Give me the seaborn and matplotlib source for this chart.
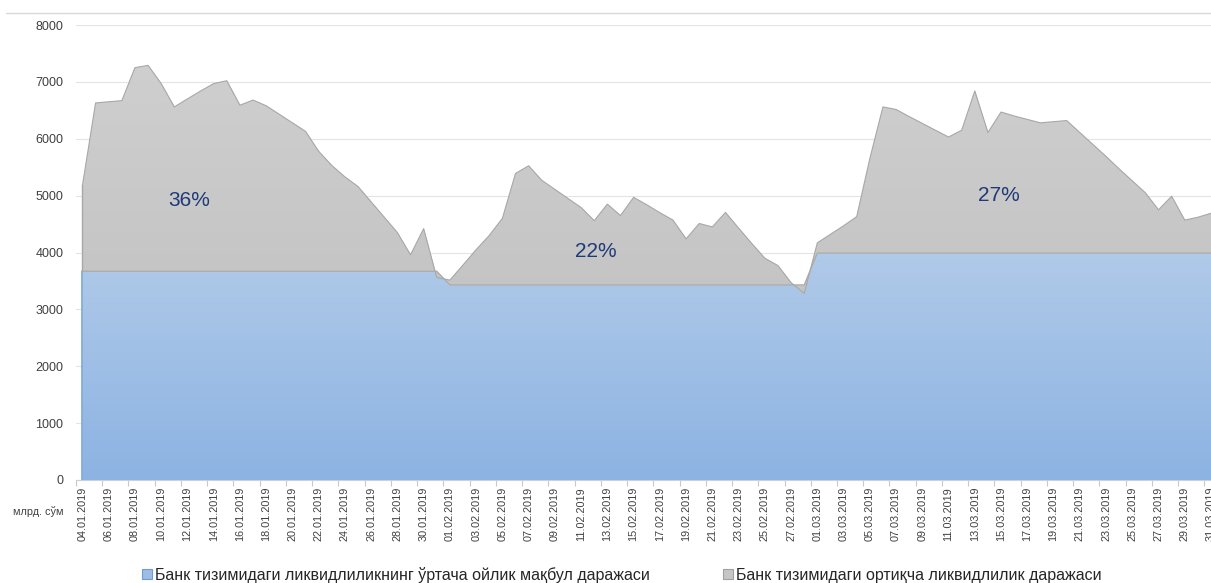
import numpy as np
import pandas as pd
import matplotlib
matplotlib.use("Agg")
import matplotlib.pyplot as plt
from matplotlib.colors import LinearSegmentedColormap
from matplotlib.patches import Patch
from matplotlib.lines import Line2D
import seaborn as sns

# daily dates 04.01.2019 - 31.03.2019
dates = pd.date_range("2019-01-04", "2019-03-31", freq="D")

# ўртача ойлик мақбул даража (monthly level), млрд. сўм
required_jan = 3670
required_feb = 3430
required_mar = 3990

# ортиқча ликвидлилик (excess over the monthly level), млрд. сўм
excess_jan = [1510, 2960, 2980, 3000, 3580, 3620, 3300, 2890, 3030, 3170,
              3300, 3350, 2920, 3010, 2910, 2760, 2610, 2460, 2110, 1860,
              1660, 1490, 1220, 950, 680, 290, 750, -110]
excess_feb = [85, 350, 620, 870, 1170, 1960, 2095, 1840, 1680, 1520,
              1360, 1130, 1420, 1220, 1540, 1410, 1270, 1140, 810, 1080,
              1020, 1275, 1000, 730, 470, 340, 40, -150]
excess_mar = [180, 330, 480, 640, 1660, 2570, 2525, 2400, 2280, 2160,
              2040, 2160, 2850, 2120, 2480, 2410, 2350, 2290, 2310, 2330,
              2120, 1910, 1700, 1480, 1270, 1060, 760, 1000, 580, 630, 700]

month_share = ["36%", "22%", "27%"]
share_pos = [(8.1, 4920), (39.1, 4010), (69.8, 5010)]

legend_labels = ["Банк тизимидаги ликвидлиликнинг ўртача ойлик мақбул даражаси",
                 "Банк тизимидаги ортиқча ликвидлилик даражаси"]

required = np.array([required_jan] * len(excess_jan) + [required_feb] * len(excess_feb)
                    + [required_mar] * len(excess_mar), dtype=float)
excess = np.array(excess_jan + excess_feb + excess_mar, dtype=float)
total = required + excess
days = np.arange(len(dates))

sns.set_theme(style="whitegrid")
plt.rcParams["font.family"] = ["Liberation Sans", "DejaVu Sans"]

W, H = 1211, 583
fig = plt.figure(figsize=(W / 100, H / 100), dpi=100)
ax = fig.add_axes([75.9 / W, 103 / H, (W - 75.9) / W, 455 / H])

# blue area with gradient
blue_poly = ax.fill_between(days, 0, required, color="#a3c0e6", lw=0, zorder=1)
grad = np.linspace(0, 1, 256).reshape(-1, 1)
blue_cmap = LinearSegmentedColormap.from_list("b", ["#8cb3e2", "#b0cae9"])
im_b = ax.imshow(grad, extent=[-0.5, 87, 0, 4000], origin="lower", aspect="auto",
                 cmap=blue_cmap, zorder=2)
im_b.set_clip_path(blue_poly.get_paths()[0], ax.transData)

# gray area (stacked on top of blue)
gray_poly = ax.fill_between(days, required, total, color="#c8c8c8", lw=0, zorder=2.5)
gray_cmap = LinearSegmentedColormap.from_list("g", ["#c4c4c4", "#cfcfcf"])
im_g = ax.imshow(grad, extent=[-0.5, 87, 3200, 7400], origin="lower", aspect="auto",
                 cmap=gray_cmap, zorder=2.6)
im_g.set_clip_path(gray_poly.get_paths()[0], ax.transData)

# outlines
ax.plot([0, 0], [0, required[0]], color="#7aa5da", lw=1.2, zorder=3)
ax.plot([0, 0], [required[0], total[0]], color="#a8a8a8", lw=1, zorder=3)
ax.plot(days, required, color="#ababab", lw=0.9, zorder=3)
sns.lineplot(x=days, y=total, color="#a8a8a8", lw=0.8, ax=ax, zorder=4)

for txt, (xx, yy) in zip(month_share, share_pos):
    ax.text(xx, yy, txt, ha="center", va="center", fontsize=15, color="#1f3a78", zorder=5)

ax.set_xlim(-0.5, 86.0)
ax.set_ylim(0, 8000)
ax.set_yticks(range(0, 8001, 1000))
ax.set_yticklabels([str(v) for v in range(0, 8001, 1000)])
ax.set_xticks(days[::2])
ax.set_xticklabels(dates[::2].strftime("%d.%m.%Y"), rotation=90)
ax.set_xticks(days[::2] - 0.5, minor=True)
ax.tick_params(axis="y", length=0, pad=9, labelsize=9, labelcolor="#404040")
ax.tick_params(axis="x", which="major", length=0, pad=5, labelsize=7.8, labelcolor="#404040")
ax.tick_params(axis="x", which="minor", length=4, width=0.8, color="#c8c8c8", bottom=True)
ax.grid(axis="y", color="#e4e4e4", lw=0.8)
ax.grid(axis="x", visible=False)
ax.set_axisbelow(True)
for s in ["top", "right", "left"]:
    ax.spines[s].set_visible(False)
ax.spines["bottom"].set_color("#d0d0d0")
ax.spines["bottom"].set_linewidth(0.8)
ax.spines["bottom"].set_zorder(6)
ax.set_xlabel("")
ax.set_ylabel("")

fig.text(38 / W, 1 - 512 / H, "млрд. сўм", ha="center", va="center", fontsize=7.8, color="#404040")
fig.add_artist(Line2D([6 / W, 1], [1 - 13 / H] * 2, color="#d9d9d9", lw=1))

handles = [Patch(facecolor="#9dbde6", edgecolor="#6f9bd4", lw=0.8),
           Patch(facecolor="#c6c6c6", edgecolor="#a0a0a0", lw=0.8)]
fig.legend(handles, legend_labels, loc="center", bbox_to_anchor=(622 / W, 8 / H), ncol=2,
           frameon=False, fontsize=11.5, handlelength=0.6, handleheight=0.6,
           handletextpad=0.2, columnspacing=4.6, labelcolor="#262626")

fig.savefig("out.png", dpi=100)
